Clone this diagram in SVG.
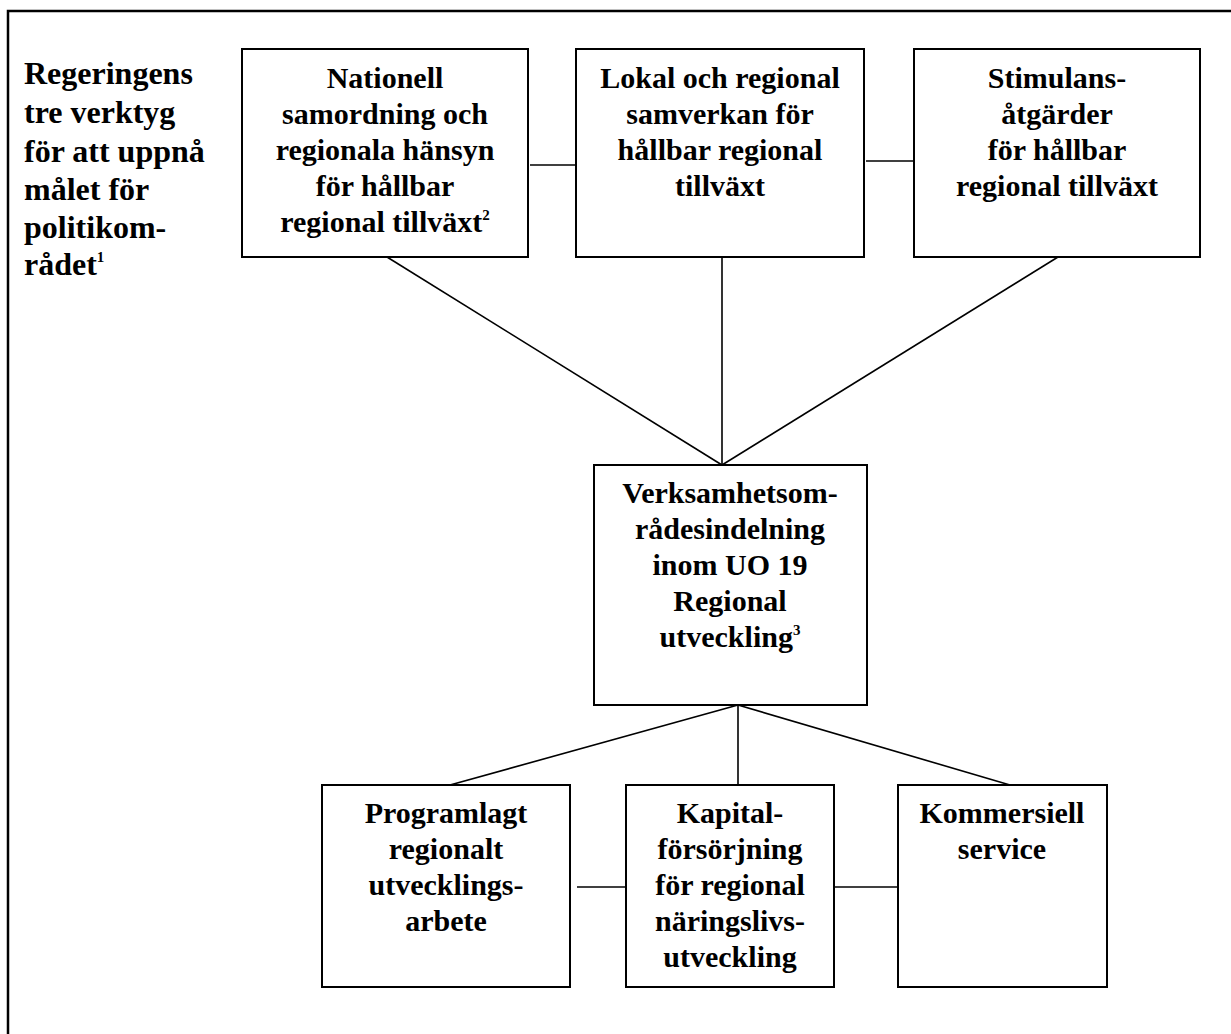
<svg xmlns="http://www.w3.org/2000/svg" width="1231" height="1034" viewBox="0 0 1231 1034">
<style>
.box{fill:#fff;stroke:#000;stroke-width:2}
.ln{stroke:#000;stroke-width:1.6;fill:none}
text{font-family:"Liberation Serif","Times New Roman",serif;font-weight:bold;font-size:30px;fill:#000}
.t{font-size:32px}
.c{text-anchor:middle}
.sup{font-size:15px}
</style>
<rect x="8" y="11" width="1240" height="1040" fill="none" stroke="#000" stroke-width="2.5"/>
<g id="title" class="t">
<text class="t" x="24" y="84">Regeringens</text>
<text class="t" x="24" y="123">tre verktyg</text>
<text class="t" x="24" y="162">för att uppnå</text>
<text class="t" x="24" y="200">målet för</text>
<text class="t" x="24" y="238">politikom-</text>
<text class="t" x="24" y="275">rådet<tspan class="sup" dy="-13">1</tspan></text>
</g>
<g id="connectors">
<line class="ln" x1="530" y1="165" x2="576" y2="165"/>
<line class="ln" x1="866" y1="161" x2="914" y2="161"/>
<line class="ln" x1="387" y1="257" x2="722" y2="465"/>
<line class="ln" x1="722" y1="257" x2="722" y2="465"/>
<line class="ln" x1="1058" y1="257" x2="722" y2="465"/>
<line class="ln" x1="738" y1="705" x2="450" y2="785"/>
<line class="ln" x1="738" y1="705" x2="738" y2="785"/>
<line class="ln" x1="738" y1="705" x2="1010" y2="785"/>
<line class="ln" x1="577" y1="887" x2="626" y2="887"/>
<line class="ln" x1="834" y1="887" x2="898" y2="887"/>
</g>
<g id="n1">
<rect class="box" x="242" y="49" width="286" height="208"/>
<text class="c" x="385" y="88">Nationell</text>
<text class="c" x="385" y="124">samordning och</text>
<text class="c" x="385" y="160">regionala hänsyn</text>
<text class="c" x="385" y="196">för hållbar</text>
<text class="c" x="385" y="232">regional tillväxt<tspan class="sup" dy="-12">2</tspan></text>
</g>
<g id="n2">
<rect class="box" x="576" y="49" width="288" height="208"/>
<text class="c" x="720" y="88">Lokal och regional</text>
<text class="c" x="720" y="124">samverkan för</text>
<text class="c" x="720" y="160">hållbar regional</text>
<text class="c" x="720" y="196">tillväxt</text>
</g>
<g id="n3">
<rect class="box" x="914" y="49" width="286" height="208"/>
<text class="c" x="1057" y="88">Stimulans-</text>
<text class="c" x="1057" y="124">åtgärder</text>
<text class="c" x="1057" y="160">för hållbar</text>
<text class="c" x="1057" y="196">regional tillväxt</text>
</g>
<g id="n4">
<rect class="box" x="594" y="465" width="273" height="240"/>
<text class="c" x="730" y="503">Verksamhetsom-</text>
<text class="c" x="730" y="539">rådesindelning</text>
<text class="c" x="730" y="575">inom UO 19</text>
<text class="c" x="730" y="611">Regional</text>
<text class="c" x="730" y="647">utveckling<tspan class="sup" dy="-12">3</tspan></text>
</g>
<g id="n5">
<rect class="box" x="322" y="785" width="248" height="202"/>
<text class="c" x="446" y="823">Programlagt</text>
<text class="c" x="446" y="859">regionalt</text>
<text class="c" x="446" y="895">utvecklings-</text>
<text class="c" x="446" y="931">arbete</text>
</g>
<g id="n6">
<rect class="box" x="626" y="785" width="208" height="202"/>
<text class="c" x="730" y="823">Kapital-</text>
<text class="c" x="730" y="859">försörjning</text>
<text class="c" x="730" y="895">för regional</text>
<text class="c" x="730" y="931">näringslivs-</text>
<text class="c" x="730" y="967">utveckling</text>
</g>
<g id="n7">
<rect class="box" x="898" y="785" width="209" height="202"/>
<text class="c" x="1002" y="823">Kommersiell</text>
<text class="c" x="1002" y="859">service</text>
</g>
</svg>
